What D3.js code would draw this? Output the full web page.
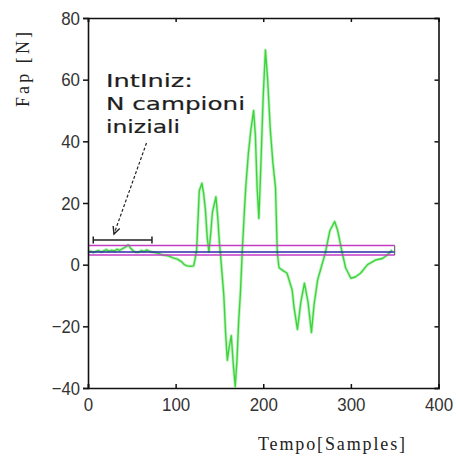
<!DOCTYPE html>
<html>
<head>
<meta charset="utf-8">
<script src="https://cdn.jsdelivr.net/npm/d3@7"></script>
<style>
  html, body { margin: 0; padding: 0; background: #fff; }
  svg { display: block; }
</style>
</head>
<body>
<svg id="chart" width="456" height="460"></svg>
<script>
// Force signal Fap [N] against sample index
const samples = [0,3,6,9,12,15,18,21,24,27,30,33,36,39,42,46,49,52,55,58,61,64,67,70,73,77,81,86,91,97,102,107,110,113,117,120.5,122,124,127,130,132,134,136,138,140,142,146,148,150,151,153,155,157,159,161,163.5,166,168,170,172,174,176,178,180,183,186,189,191,193,195,197,200,202.5,205,208,211,214,216,218,223,227,233,235,239,243,247,251,255,258,262,266,271,276,281.5,285,290,294,300,305,311,319,328,336,340,343.6,347];
const force   = [4.0,4.4,3.9,4.3,4.6,4.1,4.5,4.9,4.3,4.7,4.4,5.0,4.6,5.1,5.6,6.4,5.2,4.4,4.0,4.1,4.6,4.2,4.8,4.4,4.1,3.9,3.6,3.1,2.9,2.2,1.8,0.9,0.0,-0.4,-0.5,-0.4,1.5,4.8,24,26.4,23,17.7,9,4.2,10,17,22,15.6,7,4,-3,-10,-22,-31,-27,-23,-33,-39.5,-31,-18,-9,4,15,25,36,44,50,42,25,15,30,55,69.6,60,44,33,25,4,-1,-2,-2.7,-8.2,-13.6,-21,-12,-6,-12,-22,-13,-5,-1,4,11,14,11,4,-1,-4.4,-4,-2.8,0,1.5,2,2.8,3.7,4.8];

// Initial-interval statistics: mean and band limits
const bandUpper = 6.2;
const bandMean  = 4.1;
const bandLower = 3.1;
const bandEnd   = 350;

// Bracket marking the initial N samples
const bracketStart = 6;
const bracketEnd   = 73;
const bracketLevel = 8.0;

const xTicks = [0, 100, 200, 300, 400];
const yTicks = [-40, -20, 0, 20, 40, 60, 80];
const noteLines = ["IntIniz:", "N campioni", "iniziali"];
const xTitle = "Tempo[Samples]";
const yTitle = "Fap [N]";

const svg = d3.select("#chart");
const plotL = 88, plotR = 438.5, plotT = 18, plotB = 388;

const x = d3.scaleLinear().domain([0, 400]).range([plotL, plotR]);
const y = d3.scaleLinear().domain([-40, 80]).range([plotB, plotT]);

const line = d3.line().x((d, i) => x(samples[i])).y(d => y(d));

// signal: soft halo then the main trace
svg.append("path").datum(force)
  .attr("d", line).attr("fill", "none")
  .attr("stroke", "#c6f3c6").attr("stroke-width", 3.2)
  .attr("stroke-linejoin", "round");
svg.append("path").datum(force)
  .attr("d", line).attr("fill", "none")
  .attr("stroke", "#3cd43c").attr("stroke-width", 1.4)
  .attr("stroke-linejoin", "round");

// band lines
const band = [
  { v: bandUpper, c: "#c43cc4" },
  { v: bandLower, c: "#c43cc4" },
  { v: bandMean,  c: "#2a2aa8" }
];
svg.selectAll("line.band").data(band).join("line")
  .attr("class", "band")
  .attr("x1", x(0)).attr("x2", x(bandEnd))
  .attr("y1", d => y(d.v)).attr("y2", d => y(d.v))
  .attr("stroke", d => d.c).attr("stroke-width", 1.5);
svg.append("line")
  .attr("x1", x(bandEnd)).attr("x2", x(bandEnd))
  .attr("y1", y(bandUpper)).attr("y2", y(bandLower))
  .attr("stroke", "#555").attr("stroke-width", 1);

// bracket
const bk = svg.append("g").attr("stroke", "#222").attr("stroke-width", 1.5);
bk.append("line").attr("x1", x(bracketStart)).attr("x2", x(bracketEnd))
  .attr("y1", y(bracketLevel)).attr("y2", y(bracketLevel));
[bracketStart, bracketEnd].forEach(v => {
  bk.append("line").attr("x1", x(v)).attr("x2", x(v))
    .attr("y1", y(bracketLevel) - 3.5).attr("y2", y(bracketLevel) + 3.5);
});

// dashed pointer from the note to the bracket
const ax1 = 146.5, ay1 = 143, ax2 = 114, ay2 = 234;
svg.append("line").attr("x1", ax1).attr("y1", ay1).attr("x2", ax2).attr("y2", ay2)
  .attr("stroke", "#222").attr("stroke-width", 1.2).attr("stroke-dasharray", "3,2");
const ang = Math.atan2(ay2 - ay1, ax2 - ax1);
const hl = 8, hw = 0.45;
svg.append("path")
  .attr("d", `M${ax2 - hl * Math.cos(ang - hw)},${ay2 - hl * Math.sin(ang - hw)} L${ax2},${ay2} L${ax2 - hl * Math.cos(ang + hw)},${ay2 - hl * Math.sin(ang + hw)}`)
  .attr("fill", "none").attr("stroke", "#222").attr("stroke-width", 1.4);

// note text
const noteWidths = [87, 139, 74];
noteLines.forEach((t, i) => {
  svg.append("text")
    .attr("x", 106).attr("y", 87 + i * 23)
    .attr("font-family", "DejaVu Sans").attr("font-size", 18)
    .attr("fill", "#1e1e1e").attr("stroke", "#1e1e1e").attr("stroke-width", 0.2)
    .attr("textLength", noteWidths[i]).attr("lengthAdjust", "spacingAndGlyphs")
    .text(t);
});

// axes
const tickFont = g => g.selectAll("text")
  .attr("font-family", "Liberation Sans").attr("font-size", 19)
  .attr("fill", "#333")
  .attr("textLength", function() { return this.textContent.length * 9.4; })
  .attr("lengthAdjust", "spacingAndGlyphs");

const gx = svg.append("g").attr("transform", `translate(0,${plotB})`)
  .call(d3.axisBottom(x).tickValues(xTicks).tickSize(-4).tickPadding(10).tickFormat(d3.format("d")));
gx.call(tickFont);
const gxt = svg.append("g").attr("transform", `translate(0,${plotT})`)
  .call(d3.axisTop(x).tickValues(xTicks).tickSize(-4).tickFormat(""));
const gy = svg.append("g").attr("transform", `translate(${plotL},0)`)
  .call(d3.axisLeft(y).tickValues(yTicks).tickSize(5).tickPadding(3).tickFormat(d3.format("d")));
gy.call(tickFont);
const gyr = svg.append("g").attr("transform", `translate(${plotR},0)`)
  .call(d3.axisRight(y).tickValues(yTicks).tickSize(-4).tickFormat(""));

[gx, gxt, gy, gyr].forEach(g => {
  g.select(".domain").attr("stroke", "#111").attr("stroke-width", 1.6);
  g.selectAll(".tick line").attr("stroke", "#111").attr("stroke-width", 1.5);
});

// axis titles
svg.append("text")
  .attr("x", 258).attr("y", 450)
  .attr("font-family", "Liberation Serif").attr("font-size", 18)
  .attr("fill", "#222")
  .attr("textLength", 147).attr("lengthAdjust", "spacing")
  .text(xTitle);
svg.append("text")
  .attr("transform", "translate(29,107) rotate(-90)")
  .attr("font-family", "Liberation Serif").attr("font-size", 18)
  .attr("fill", "#222")
  .attr("textLength", 75).attr("lengthAdjust", "spacing")
  .text(yTitle);
</script>
</body>
</html>
